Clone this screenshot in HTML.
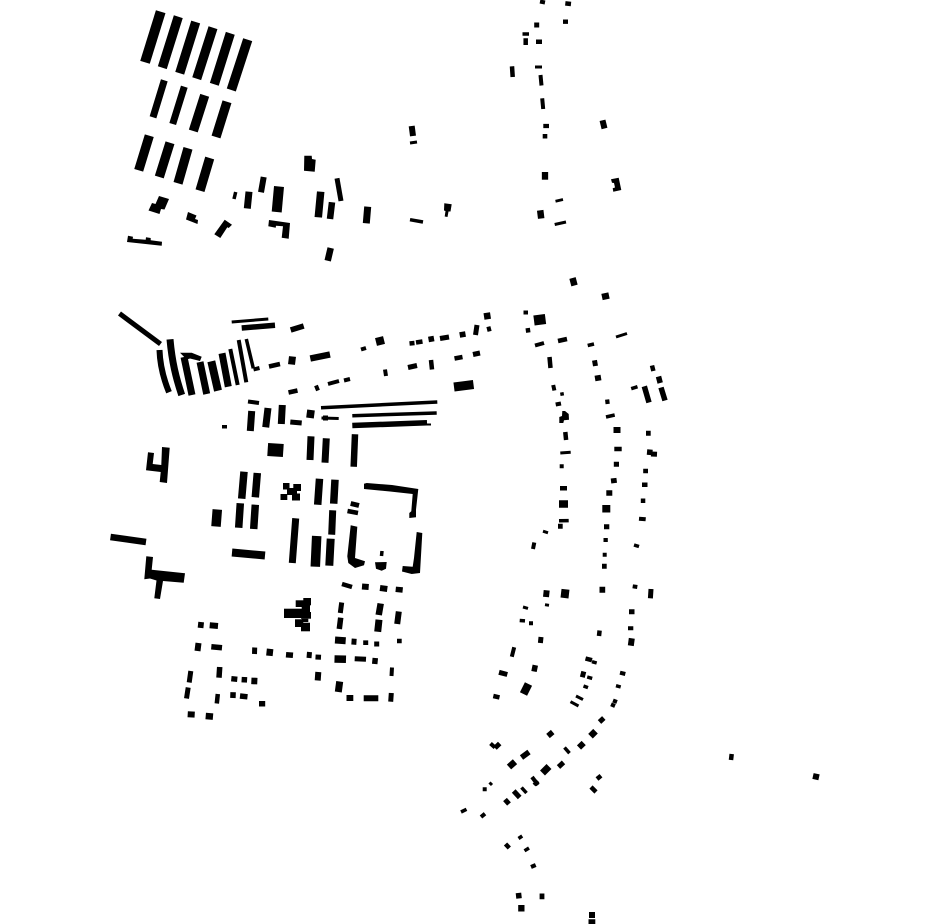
<!DOCTYPE html>
<html><head><meta charset="utf-8"><title>Figure-ground plan</title>
<style>html,body{margin:0;padding:0;background:#fff;width:930px;height:924px;overflow:hidden}svg{display:block}path{stroke:#000;fill:none}polygon,rect{fill:#000}</style></head>
<body><svg width="930" height="924" viewBox="0 0 930 924" xmlns="http://www.w3.org/2000/svg">
<path stroke-width="10" d="M160.7 11.7L145 62.3"/><path stroke-width="9.3" d="M178.3 16.7L162.3 67.7M195.7 22L179.7 73.3M213 27.7L196.7 78.7M230.3 33.3L214.3 84.3M149.3 135.7L138.7 170.3M170 142.7L159.3 177M188 148.3L178 183.3M209.7 158L200 190.7M204.7 95.3L193.3 131M227 101.7L216 137"/><path stroke-width="9.5" d="M247.7 39.7L231.3 90"/><path stroke-width="7" d="M164.3 80.3L153 117.3M184.3 86.7L172.7 124M249 191.7L247.3 208.5M367.7 206.7L366.3 223.3"/>
<polygon points="159,196 169,199 164.5,209.5 161,209 159.5,214 148.5,210.5 152,203 155.5,204"/><polygon points="188,212 196.5,215.5 195,219 198,220 197.5,224 186,219.5"/><polygon points="224.7,219.7 232,224.7 228.7,228 227.3,227.3 220.3,238 214.3,234.3"/><polygon points="128,235.7 133,236.7 132.7,238.7 145.7,239.7 146,237.3 150.7,238 150.7,240.3 162,241.7 161.7,245.7 127,242"/>
<path stroke-width="3.5" d="M235.7 192L234 199"/><path stroke-width="6" d="M263.7 177L261 192.3M411.7 126L413 136"/><path stroke-width="10" d="M279 186.5L276.7 212"/>
<polygon points="304.3,155.7 311.7,155.7 312,159 315.7,159.7 314.7,171.7 304,170.7"/><path stroke-width="7.5" d="M320.7 191.7L318.3 217.3"/><path stroke-width="6.5" d="M332 202.3L330 219M330.7 248L327.7 260.7"/><path stroke-width="5" d="M337 178.3L341 201"/><polygon points="269,220 290,223 288.7,238.7 281.7,237.7 283,226.3 276,225.7 275.7,227.7 268.3,226.3"/>
<path stroke-width="3" d="M410 143L417 142"/><path stroke-width="3.5" d="M410 219.7L423 222"/><polygon points="444.3,203.3 451.7,204.3 450.5,211.5 448.5,211.5 447.5,217 444.7,216.5 445.5,211 444,210.5"/>

<path stroke-width="5" d="M119.5 313.5L160.5 344"/>
<path stroke-width="6" d="M159.5 350C160 366 164 380 169 392.3"/><path stroke-width="7" d="M170 339.3C172 362 176 378 181.7 395M184 357L192 395M200 362L206.7 394M222 353.3L228.3 386.7"/><polygon points="180,352.7 191.7,352.7 201.7,356.7 200,361 190,358.5 186.7,359.5"/><path stroke-width="8" d="M211.3 361.3L218 390.7"/><path stroke-width="4" d="M230.3 349L237.7 385M238.7 340L246.3 382.3"/><path stroke-width="3.5" d="M246.3 339L253.3 368.3"/>
<path stroke-width="3" d="M231.7 322L268.3 319"/><path stroke-width="5.5" d="M241.7 328L275 325.3M290.7 330L303.7 326"/><path stroke-width="6.5" d="M310.3 358.5L330 354.5"/><path stroke-width="7" d="M291.5 364.5L292.5 356.5"/><path stroke-width="4.5" d="M269 366.5L280 364"/><path stroke-width="4" d="M253.5 369.5L259.5 368M361 349.5L366 348"/><path stroke-width="8" d="M376 342L384 340"/><path stroke-width="4.5" d="M409.5 343.5L414.5 343M416 342.5L422.5 341.5"/><path stroke-width="5.5" d="M428.5 339.5L434 338.5M459.7 335L465.5 334"/><path stroke-width="5" d="M440 338.5L449 337M477 325L475.5 335M487 329.5L491 328.5"/><path stroke-width="6.5" d="M484 316.5L490.5 315.5"/>
<path stroke-width="4" d="M385 369.5L386 376"/><path stroke-width="5" d="M408 367.5L417 365.5M473 354.5L480 353"/><path stroke-width="4.5" d="M431 360L432 369.5M454.5 358.5L462.5 357M288.5 392.5L297.5 390.5"/><path stroke-width="9" d="M454 387L473.5 384.5"/><path stroke-width="4" d="M316 385.5L318 390.5M328 384L339 381M344 380.5L350 379M248 401.5L259 403"/>
<path stroke-width="7" d="M251.7 411L250.3 431M268 408L265.7 427.3M282.3 405L281.3 424M311 436.3L310 460M326.3 438.3L325 462.7"/><path stroke-width="5" d="M290.3 422L301.7 423"/><path stroke-width="8" d="M306.7 413.5L314.3 414.5"/><path stroke-width="3" d="M321.5 418L338.7 418.5"/><path stroke-width="5" d="M323 418L328 418"/><rect x="222" y="425" width="5" height="3.5"/>
<path stroke-width="3.5" d="M321 407.7L437.3 402M352.3 415.7L436.7 413"/><path stroke-width="5.5" d="M352.3 425.5L427 422.8"/><path stroke-width="2" d="M427 424.5L431 424.5"/><path stroke-width="6.5" d="M355 434.3L353.7 466.7"/><path stroke-width="13" d="M267.7 449.5L283.3 450.5"/>
<polygon points="162,447 169.7,447.7 167,483 159.7,482 160.7,472 146,470.3 148,452.3 154,453 152.7,464 161.3,465"/>
<path stroke-width="7.5" d="M244 471.7L241.7 498.7M257.3 473L255.3 497.3M240.3 503.3L238.7 527.7M255.3 504.7L253.7 529M319.5 478.7L317.7 504.7M335 479.7L333.7 503.7"/><path stroke-width="9.5" d="M217.3 509.5L216 526.5M316.7 536L315.3 566.7"/><path stroke-width="7" d="M332.7 510.3L331.7 534.7M295.7 518.3L292.3 563"/><path stroke-width="8" d="M330.7 538.7L329.3 565.7M232 552.5L265 555.5"/><path stroke-width="6.5" d="M110.5 537L146 542"/>
<polygon points="146.3,556.3 153,557 151.7,569.7 185,573.3 183.7,582.7 163,581 160,599 154.3,598.3 156.5,580.5 150,578.5 144.3,579.3"/>
<rect x="283" y="483" width="6.5" height="6.5"/><rect x="293.3" y="484" width="7.7" height="7"/><rect x="287" y="488" width="10" height="7"/><rect x="280.5" y="494" width="6.8" height="6"/><rect x="292" y="493.5" width="8" height="7"/>
<polygon points="364,483.7 366.7,483 392,485 418.3,489 416,509.7 416,517.3 409.3,518 409.3,513 411.3,511.3 412.7,494 390,491.5 364,489"/><polygon points="350.7,525.3 357.3,526.7 355,558 365,561.3 364,565.3 355,568 348.3,563 347.3,556.3"/><polygon points="416.7,532 422.3,533 420,573 411.7,574 402,571.5 402.7,566 412.7,566.7 414,558"/><path stroke-width="3.5" d="M382 551L381.5 556"/><polygon points="375,562.3 386.7,562 386,568.7 381.7,570.7 376,568.7"/><path stroke-width="5" d="M350.7 503.5L359 505.5"/><path stroke-width="4.5" d="M347.5 511L358 513"/>

<path stroke-width="4.5" d="M342 584L352 587"/><path stroke-width="6" d="M362 586.5L368.7 587M380 588L387.3 589M198 624.7L203.7 625.3M209.7 625.3L218 626M198.5 643L197.5 651M346.5 698L353.3 698M363.7 698.3L378.3 698.3M398.8 611.5L397.2 624M187.7 714.2L194.7 714.6"/><path stroke-width="5.5" d="M395.7 589.3L402.7 590M211.3 646.7L222 647.7M286 654.7L293 655.3M340.7 617.7L339.3 629M375.3 658L374.7 664M219.7 667L219 677.7M231.3 678.7L237.3 679.3M244.5 677L244.2 682.5M233.1 692.2L232.9 698M240 696L247.5 696.8M259 703.7L265.2 703.7"/><path stroke-width="5" d="M254.7 647.5L254.5 654M309.5 652L309 658M315.5 657L321 657.3M354.7 658.7L366 659.3M354.2 638.7L353.8 644.7M376.7 641.5L376.7 646.5M365.7 640.4L365.7 645M391.3 693L390.7 701.7M341.7 602.5L340.3 613M190.8 671L189.2 682.5M188.2 687.5L186.5 698.5"/><path stroke-width="7" d="M266.5 652L273 652.7M335 640L345.7 640.7M339.7 681.5L338.3 692M379 619.7L377.7 631.7"/><path stroke-width="6" d="M318.3 672L317.7 680.5M254.5 677.7L254.2 684.3"/><path stroke-width="7.5" d="M334.5 659L346 659.3"/><path stroke-width="4.5" d="M397 641L401.7 641M217.8 694L216.8 703.5"/><path stroke-width="4" d="M392 667.5L391.5 676"/><path stroke-width="6.5" d="M380.7 603.5L378.7 615M205.7 716L213 716.6"/>
<rect x="303.3" y="598" width="7.7" height="7.3"/><rect x="295.7" y="600.3" width="9.3" height="6.7"/><rect x="301.7" y="605" width="8.3" height="7"/><rect x="284" y="608.7" width="19" height="9.3"/><rect x="301" y="612" width="10" height="6.7"/><rect x="301.7" y="618.7" width="6.6" height="3.3"/><rect x="295" y="619.3" width="8.3" height="7.7"/><rect x="301" y="622.7" width="9" height="8.6"/>

<path stroke-width="6.5" d="M572.5 278L574.5 285.5M602 297L609 295.5"/><path stroke-width="4" d="M523.5 312.5L528 312.5M535 345.5L544 343M553.2 385L554.4 390.5M555.7 404.5L561 403.5M559.7 466.3L563.7 466.3M534.3 542.5L533 549M603.5 540L607.8 540M602.7 554.7L606.7 554.7M639 518.7L645.7 519.3"/><path stroke-width="10" d="M534 320.5L545.5 319"/><path stroke-width="4.5" d="M525.8 330.6L530.2 330M558 341L567 339M565.3 432L566.1 440M560 488.3L567 488.3M614.3 449L621.7 449M605.3 402L609.5 401.5M643.2 471L648 471M642 484.7L647.5 484.7M640.8 500.7L645.3 500.7M652 365.5L653.4 371M549.5 357L550.5 368"/><path stroke-width="3.5" d="M587.7 345.5L594 344M560.3 394.3L563.8 393.7M606 417L614.7 415M559 520.8L568.7 520.6M634 545L639 546.5M631.2 388.7L637.5 386.7"/><path stroke-width="3" d="M616 337L627 333.5M560.3 453L570.7 452.3M543 531.2L548 532.8"/><path stroke-width="5" d="M594.5 360.3L595.5 366M613.8 464.3L619 464.3M558 526.3L562.7 526.3M604 526.7L609.3 526.7M646 433.3L650.7 433.3M651 454L657 454.3M602 566.3L606.7 566.3M611 481L616.7 480.3"/><path stroke-width="5.5" d="M595 378.5L601 377.5M606.3 493L612.3 493M647 452L652.5 452.5M658.5 376.5L660.2 383M644.3 386.3L649 402.5M661 387.5L665 400.5"/><polygon points="562.3,411 565,411 568.7,414 569,419.7 564,420.3 563.3,423 559.3,423 559.3,417 562,416"/><path stroke-width="6" d="M613.5 430L620.5 430"/><path stroke-width="7.5" d="M559 504L568 504M602.3 508.7L610.3 508.7"/>

<path stroke-width="6" d="M546.7 590.3L546 597M599.5 589.7L605.2 589.7M631.8 638.3L630.8 645.7"/><path stroke-width="8" d="M565.5 589.3L564.5 598M528.5 684L523.5 694"/><path stroke-width="4" d="M632.7 586.3L637.3 587M514.2 647.3L511.8 656.7M628 628.3L633.3 628.3M620 672.7L625.3 674M529 623.3L533 623.3M613 700.5L617 702M611 704.3L615 706M532 777L538 785M482.7 789.3L486.7 789.3M481 817L485 813.7M531 867L535.7 865"/><path stroke-width="5" d="M651 589L650.4 598.3M629 611.7L634.5 611.7M541 637L540.4 643M499 672.3L507.3 674.5M583.8 671.5L582.3 677.2M599.5 722L603.8 718M558.5 767L563.5 762.4M495 748L499.7 743.5M505 799.5L509 804M513.7 791L519.7 797.5"/><path stroke-width="3" d="M523 607L528 608.4M545 604.7L549 605.3M576 696L583 699.6M570.5 701.7L578.5 706M489.5 782.5L492 785"/><path stroke-width="3.5" d="M519.7 620.5L525 620.9M592 661.7L596.7 663M587.2 677L592.2 678.4M583.5 686L588 687.6M616 685.7L620.7 687M564.5 747.5L569.5 753.2M521.5 787.5L526.5 793M461 812L466.5 809.3M518.5 838.5L522.2 836M524.5 850.8L529 848"/><path stroke-width="4.5" d="M599.6 630.5L599 636M585.5 658.5L592 660.2M493.3 696L499.5 697.4M597 779L601 775.7M591 787L596 792M505.5 844L509.3 848"/><path stroke-width="5.5" d="M535.3 665.2L534 671.5M548 736L552.7 732M521.5 757.5L529 752M516 896L521.5 895.4"/><path stroke-width="6.5" d="M590.5 736.2L595.5 731.2M509 767L515 761.7M518.2 908.3L524.5 908.3"/><path stroke-width="6" d="M579 747.5L583.7 743M589 915L595 915"/><path stroke-width="4" d="M490.5 743.5L495 747.5M534 785L538 781"/><path stroke-width="7" d="M542.5 773L549 766.5"/><path stroke-width="4.8" d="M542 893.5L542 899.2M588.5 921.7L595.3 921.7"/>
<path stroke-width="4.5" d="M731.7 754L731 760"/><path stroke-width="6" d="M813 776L819 777.3"/>

<path stroke-width="4" d="M540 1.5L545 2.5M540.5 75L541.5 85.5M542.2 98.3L543.2 109"/><path stroke-width="4.5" d="M565.3 3.4L571 4M525.7 38.3L525.7 45M536 41.7L542 41.7M512 66.3L512.7 77M542.7 136.3L547.3 136.3"/><path stroke-width="5" d="M534.2 25L539.2 25"/><path stroke-width="4.3" d="M563 21.7L568 21.7M543.3 126L549 126"/><path stroke-width="3.5" d="M522.5 34L529 34"/><path stroke-width="3" d="M535 67L542 67M554.7 224.5L566 222"/><path stroke-width="6.3" d="M545 172L545 179.7"/><path stroke-width="6" d="M602.5 120.3L604.5 128.5"/><polygon points="611,179.3 618.7,177.7 621.3,190 613.3,191.7 612.7,188.3 615,187.5 614,183 612,182.7"/><path stroke-width="2.8" d="M555.5 201.2L563 199.5"/><path stroke-width="6.5" d="M540.2 210.3L541.2 218.5"/>
</svg></body></html>
